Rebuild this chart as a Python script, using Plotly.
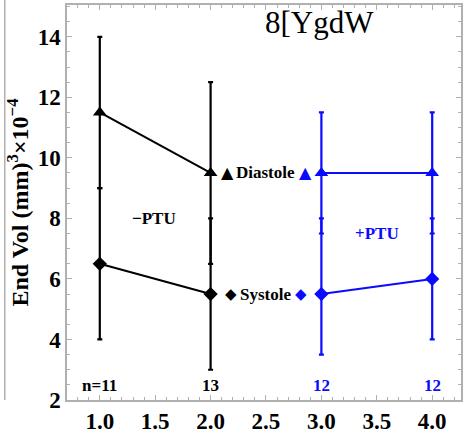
import plotly.graph_objects as go

# ---- data ----
x_ctrl = [1.0, 2.0]
x_ptu = [3.0, 4.0]
dia_ctrl = [11.5, 9.5]
dia_ctrl_plus = [2.5, 3.0]
dia_ctrl_minus = [2.5, 3.0]
sys_ctrl = [6.5, 5.5]
sys_ctrl_plus = [2.5, 2.5]
sys_ctrl_minus = [2.5, 2.5]
dia_ptu = [9.5, 9.5]
dia_ptu_plus = [2.0, 2.0]
dia_ptu_minus = [2.0, 2.0]
sys_ptu = [5.5, 6.0]
sys_ptu_plus = [2.5, 2.0]
sys_ptu_minus = [2.0, 2.0]
n_labels = ["n=11", "13", "12", "12"]
n_x = [1.0, 2.0, 3.0, 4.0]
x_ticks = [1.0, 1.5, 2.0, 2.5, 3.0, 3.5, 4.0]
y_ticks = [2, 4, 6, 8, 10, 12, 14]

BLACK = "#000000"
BLUE = "#0a0aff"
SERIF = "Liberation Serif"
FRAME = "#b0b0b0"

fig = go.Figure()

def add(x, y, plus, minus, color, symbol, size):
    fig.add_trace(go.Scatter(
        x=x, y=y, mode="lines+markers",
        line=dict(color=color, width=2),
        marker=dict(symbol=symbol, size=size, color=color),
        error_y=dict(type="data", symmetric=False, array=plus, arrayminus=minus,
                     color=color, thickness=2.2, width=2.5),
        showlegend=False,
    ))

add(x_ctrl, dia_ctrl, dia_ctrl_plus, dia_ctrl_minus, BLACK, "triangle-up", 12)
add(x_ctrl, sys_ctrl, sys_ctrl_plus, sys_ctrl_minus, BLACK, "diamond", 11)
add(x_ptu, dia_ptu, dia_ptu_plus, dia_ptu_minus, BLUE, "triangle-up", 12)
add(x_ptu, sys_ptu, sys_ptu_plus, sys_ptu_minus, BLUE, "diamond", 11)

ann = []
def txt(x, y, s, color, size=17, bold=True, xanchor="center", family=SERIF):
    ann.append(dict(x=x, y=y, xref="x", yref="y", text=f"<b>{s}</b>" if bold else s,
                    showarrow=False, xanchor=xanchor, yanchor="middle",
                    font=dict(family=family, size=size, color=color)))

# key labels
txt(2.15, 9.5, "▲", BLACK, size=16, family="DejaVu Sans")
txt(2.21, 9.5, "Diastole", BLACK, xanchor="left")
txt(2.86, 9.5, "▲", BLUE, size=16, family="DejaVu Sans")
txt(2.18, 5.5, "◆", BLACK, size=15, family="DejaVu Sans")
txt(2.25, 5.5, "Systole", BLACK, xanchor="left")
txt(2.82, 5.5, "◆", BLUE, size=15, family="DejaVu Sans")
txt(1.49, 8.0, "−PTU", BLACK)
txt(3.50, 7.5, "+PTU", BLUE)
for xi, s in zip(n_x, n_labels):
    txt(xi, 2.49, s, BLACK if xi < 2.5 else BLUE)

ann.append(dict(x=0.64, y=0.955, xref="paper", yref="paper", text="8[YgdW",
                showarrow=False, xanchor="center", yanchor="middle",
                font=dict(family=SERIF, size=31, color="black")))

fig.update_layout(
    width=466, height=437,
    margin=dict(l=67, r=3, t=5, b=29),
    paper_bgcolor="white", plot_bgcolor="white",
    annotations=ann,
    shapes=[dict(type="line", xref="paper", yref="paper", x0=-0.158, x1=-0.158, y0=0, y1=1.02,
                 line=dict(color=FRAME, width=1.5))],
    font=dict(family=SERIF, color="black"),
)

fig.update_xaxes(
    range=[0.704, 4.26], tickvals=x_ticks,
    ticktext=[f"<b>{v:.1f}</b>" for v in x_ticks],
    tickfont=dict(family=SERIF, size=23, color="black"),
    showgrid=False, zeroline=False, showline=True, linecolor=FRAME, linewidth=1.5, mirror="ticks",
    ticks="inside", ticklen=5, tickcolor=FRAME,
    minor=dict(dtick=0.1, ticks="inside", ticklen=3, tickcolor=FRAME),
)
fig.update_yaxes(
    range=[2, 15.05], tickvals=y_ticks,
    ticktext=[f"<b>{v}</b>" for v in y_ticks],
    tickfont=dict(family=SERIF, size=23, color="black"),
    showgrid=False, zeroline=False, showline=True, linecolor=FRAME, linewidth=1.5, mirror="ticks",
    ticks="inside", ticklen=5, tickcolor=FRAME,
    minor=dict(dtick=0.5, ticks="inside", ticklen=3, tickcolor=FRAME),
    title=dict(text="<b>End Vol (mm)<sup>3</sup>×10<sup>−4</sup></b>",
               font=dict(family=SERIF, size=24, color="black"), standoff=2),
)

fig.write_html("out.html")
